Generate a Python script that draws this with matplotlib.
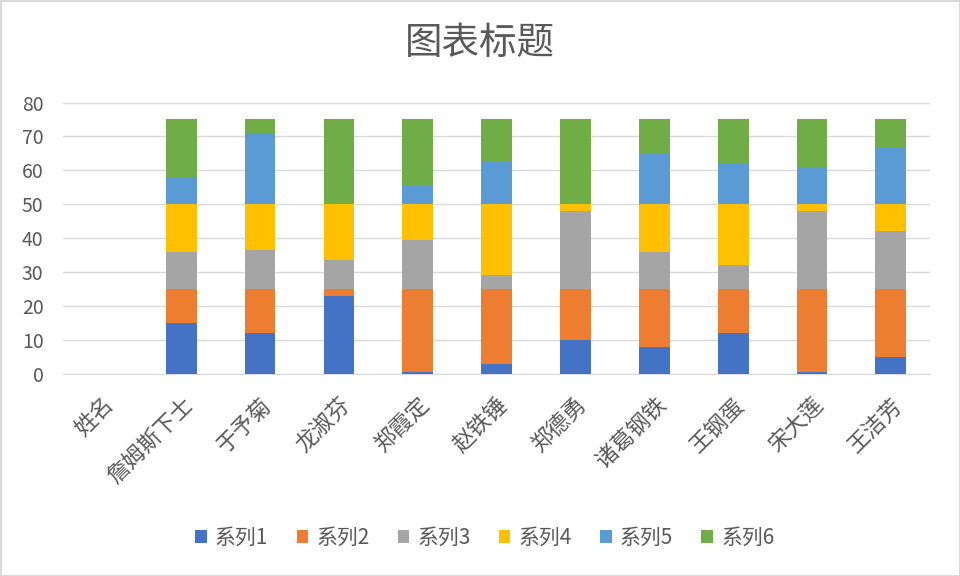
import numpy as np
import matplotlib
matplotlib.use("Agg")
import matplotlib.pyplot as plt

plt.rcParams["font.family"] = ["Noto Sans CJK SC", "DejaVu Sans"]

names = ["姓名", "詹姆斯下士", "于予菊", "龙淑芬", "郑霞定", "赵铁锤",
         "郑德勇", "诸葛钢铁", "王钢蛋", "宋大莲", "王洁芳"]
series_labels = ["系列1", "系列2", "系列3", "系列4", "系列5", "系列6"]
s1 = [0, 15, 12, 23, 0.5, 3, 10, 8, 12, 0.5, 5]
s2 = [0, 10, 13, 2, 24.5, 22, 15, 17, 13, 24.5, 20]
s3 = [0, 11, 11.5, 8.5, 14.5, 4, 23, 11, 7, 23, 17]
s4 = [0, 14, 13.5, 16.5, 10.5, 21, 2, 14, 18, 2, 8]
s5 = [0, 8, 21, 0, 5.5, 12.5, 0, 15, 12, 11, 16.5]
s6 = [0, 17, 4, 25, 19.5, 12.5, 25, 10, 13, 14, 8.5]
colors = ["#4472C4", "#ED7D31", "#A5A5A5", "#FFC000", "#5B9BD5", "#70AD47"]

txt = "#595959"
fig = plt.figure(figsize=(9.6, 5.76), dpi=100, edgecolor="#D9D9D9", linewidth=2)
ax = fig.add_axes([0.0656, 0.351, 0.9034, 0.471])

x = np.arange(len(names))
bottom = np.zeros(len(names))
for vals, lab, col in zip([s1, s2, s3, s4, s5, s6], series_labels, colors):
    v = np.array(vals, dtype=float)
    ax.bar(x, v, width=0.39, bottom=bottom, color=col, label=lab, zorder=3)
    bottom += v

ax.set_xlim(-0.5, len(names) - 0.5)
ax.set_ylim(0, 80)
ax.set_yticks(range(0, 81, 10))
ax.yaxis.grid(True, color="#D9D9D9", lw=1, zorder=0)
for s in ["top", "right", "left"]:
    ax.spines[s].set_visible(False)
ax.spines["bottom"].set_color("#D9D9D9")
ax.tick_params(axis="y", length=0, pad=14, labelsize=14, labelcolor=txt)
ax.tick_params(axis="x", length=0, pad=14, labelsize=16, labelcolor=txt)
ax.set_xticks(x)
ax.set_xticklabels(names, rotation=45, ha="right", va="top", rotation_mode="anchor")

fig.text(0.5, 0.925, "图表标题", ha="center", va="center", fontsize=27, color=txt)

fig.legend(loc="center", bbox_to_anchor=(0.505, 0.066), ncol=6, frameon=False,
           fontsize=15, labelcolor=txt, handlelength=0.55, handleheight=0.55,
           handletextpad=0.4, columnspacing=1.35)

fig.savefig("out.png", dpi=100)
